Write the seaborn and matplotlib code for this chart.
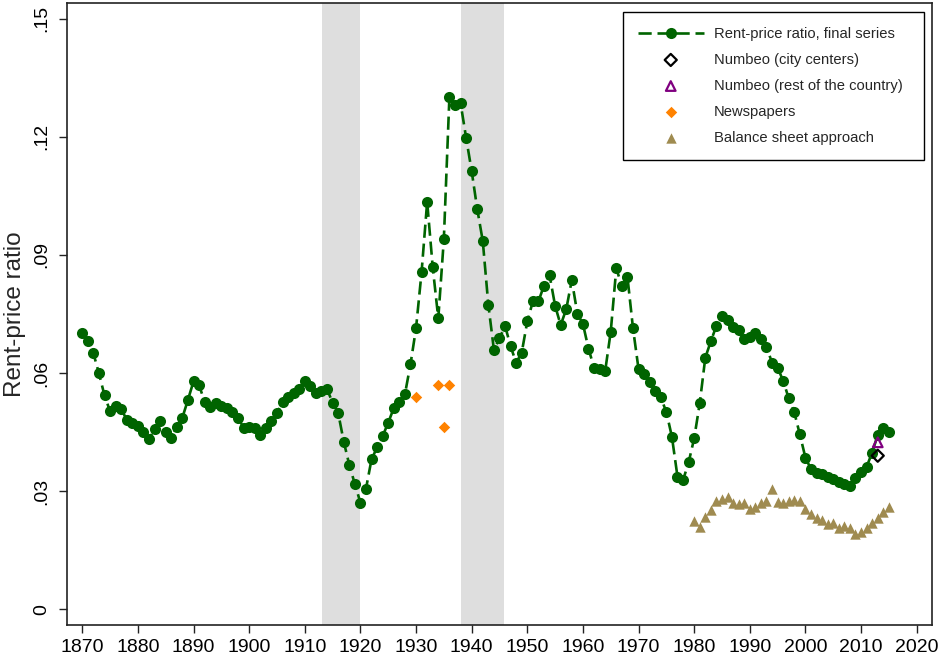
import numpy as np
import pandas as pd
import matplotlib
matplotlib.use("Agg")
import matplotlib.pyplot as plt
import seaborn as sns

# Rent-price ratio, final series (annual, 1870-2015)
years = list(range(1870, 2016))
ratio = [
    0.0703, 0.0682, 0.0650, 0.0599, 0.0543, 0.0503, 0.0516, 0.0509, 0.0481, 0.0472,  # 1870s
    0.0466, 0.0451, 0.0432, 0.0457, 0.0479, 0.0449, 0.0434, 0.0464, 0.0487, 0.0532,  # 1880s
    0.0579, 0.0569, 0.0527, 0.0515, 0.0523, 0.0516, 0.0511, 0.0501, 0.0487, 0.0461,  # 1890s
    0.0462, 0.0461, 0.0443, 0.0461, 0.0478, 0.0498, 0.0527, 0.0540, 0.0549, 0.0559,  # 1900s
    0.0581, 0.0567, 0.0549, 0.0554, 0.0559, 0.0525, 0.0499, 0.0426, 0.0367, 0.0318,  # 1910s
    0.0271, 0.0306, 0.0381, 0.0411, 0.0440, 0.0474, 0.0511, 0.0527, 0.0546, 0.0622,  # 1920s
    0.0714, 0.0857, 0.1035, 0.0869, 0.0739, 0.0940, 0.1302, 0.1282, 0.1286, 0.1198,  # 1930s
    0.1113, 0.1017, 0.0935, 0.0773, 0.0659, 0.0688, 0.0720, 0.0668, 0.0626, 0.0652,  # 1940s
    0.0731, 0.0782, 0.0782, 0.0822, 0.0849, 0.0771, 0.0722, 0.0762, 0.0836, 0.0751,  # 1950s
    0.0725, 0.0662, 0.0614, 0.0610, 0.0605, 0.0705, 0.0866, 0.0821, 0.0845, 0.0714,  # 1960s
    0.0610, 0.0597, 0.0576, 0.0555, 0.0538, 0.0501, 0.0438, 0.0337, 0.0328, 0.0373,  # 1970s
    0.0434, 0.0523, 0.0639, 0.0681, 0.0720, 0.0744, 0.0735, 0.0718, 0.0709, 0.0686,  # 1980s
    0.0692, 0.0703, 0.0686, 0.0667, 0.0626, 0.0614, 0.0580, 0.0536, 0.0500, 0.0444,  # 1990s
    0.0385, 0.0356, 0.0345, 0.0343, 0.0337, 0.0331, 0.0324, 0.0318, 0.0314, 0.0334,  # 2000s
    0.0348, 0.0362, 0.0398, 0.0443, 0.0460, 0.0451,                                  # 2010s
]

# Alternative estimates
numbeo_city_year = [2013]
numbeo_city = [0.0390]
numbeo_rest_year = [2013]
numbeo_rest = [0.0424]
news_years = [1930, 1934, 1935, 1936]
news_ratio = [0.0538, 0.0570, 0.0462, 0.0570]
bs_years = list(range(1980, 2016))
bs_ratio = [
    0.0225, 0.0210, 0.0235, 0.0252, 0.0275, 0.0279, 0.0286, 0.0269, 0.0267, 0.0269,
    0.0254, 0.0261, 0.0269, 0.0276, 0.0306, 0.0273, 0.0269, 0.0275, 0.0278, 0.0275,
    0.0255, 0.0242, 0.0233, 0.0227, 0.0216, 0.0218, 0.0207, 0.0212, 0.0207, 0.0190,
    0.0195, 0.0206, 0.0218, 0.0231, 0.0248, 0.0261,
]

# World wars
war_periods = [(1913.1, 1919.9), (1938.1, 1945.8)]

yticks = [0, 0.03, 0.06, 0.09, 0.12, 0.15]
ytick_labels = ["0", ".03", ".06", ".09", ".12", ".15"]
xticks = list(range(1870, 2021, 10))

GREEN = "#006400"
ORANGE = "#FF8200"
PURPLE = "#800080"
SAND = "#9F8B50"
SHADE = "#DEDEDE"

sns.set_style("ticks")
plt.rcParams["font.family"] = ["Liberation Sans", "DejaVu Sans"]

fig = plt.figure(figsize=(9.38, 6.59), dpi=100)
ax = fig.add_axes([66.7 / 938, 34 / 659, (931.7 - 66.7) / 938, 622 / 659])

for start, end in war_periods:
    ax.axvspan(start, end, color=SHADE, lw=0, zorder=0)

main = pd.DataFrame({"year": years, "ratio": ratio})
sns.lineplot(data=main, x="year", y="ratio", ax=ax, color=GREEN,
             linestyle=(0, (5.0, 2.2)), linewidth=1.9,
             marker="o", markersize=8, markeredgewidth=0,
             label="Rent-price ratio, final series", zorder=3)

sns.scatterplot(x=numbeo_city_year, y=numbeo_city, ax=ax, marker="D", s=38,
                facecolor="none", edgecolor="black", linewidth=1.6,
                label="Numbeo (city centers)", zorder=4)
sns.scatterplot(x=numbeo_rest_year, y=numbeo_rest, ax=ax, marker="^", s=48,
                facecolor="none", edgecolor=PURPLE, linewidth=1.6,
                label="Numbeo (rest of the country)", zorder=4)
sns.scatterplot(x=news_years, y=news_ratio, ax=ax, marker="D", s=34,
                color=ORANGE, linewidth=0,
                label="Newspapers", zorder=4)
sns.scatterplot(x=bs_years, y=bs_ratio, ax=ax, marker="^", s=56,
                color=SAND, linewidth=0,
                label="Balance sheet approach", zorder=4)

ax.set_xlim(1867.2, 2022.7)
ax.set_ylim(-0.004, 0.154)
ax.set_xticks(xticks)
ax.set_xticklabels([str(t) for t in xticks])
ax.set_yticks(yticks)
ax.set_yticklabels(ytick_labels, rotation=90, va="center")

ax.tick_params(axis="both", direction="out", length=6, width=1, color="#222222",
               labelsize=14, labelcolor="black")
ax.tick_params(axis="x", pad=4)
ax.tick_params(axis="y", pad=6)

for side in ["left", "right", "top", "bottom"]:
    ax.spines[side].set_visible(True)
    ax.spines[side].set_linewidth(1.2)
    ax.spines[side].set_color("#222222")

ax.set_xlabel("")
ax.set_ylabel("Rent-price ratio", fontsize=17.5, labelpad=5)

leg = ax.legend(loc="upper left", bbox_to_anchor=(0.643, 0.9855, 0.348, 0.0),
                mode="expand", borderaxespad=0, fontsize=10.6, frameon=True,
                fancybox=False, edgecolor="black", framealpha=1,
                handlelength=4.5, handletextpad=0.7, labelspacing=0.82,
                borderpad=1.0)
leg.get_frame().set_linewidth(1.0)

fig.savefig("out.png", dpi=100)
